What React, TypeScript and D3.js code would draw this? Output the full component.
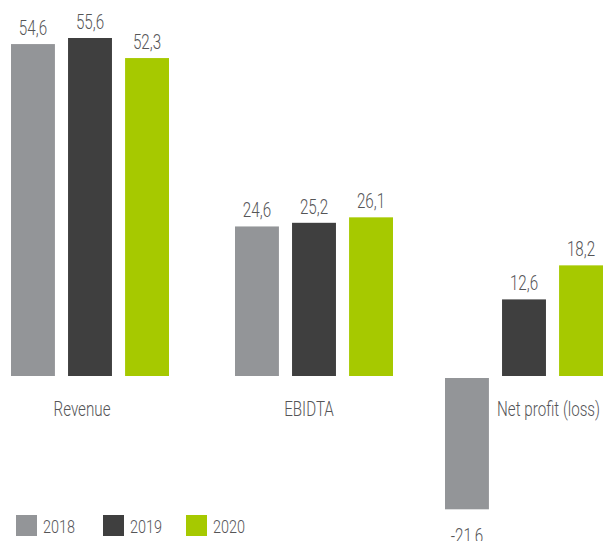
import * as d3 from 'd3'

const categories = ['Revenue', 'EBIDTA', 'Net profit (loss)']
const years = ['2018', '2019', '2020']
const values2018 = [54.6, 24.6, -21.6]
const values2019 = [55.6, 25.2, 12.6]
const values2020 = [52.3, 26.1, 18.2]
const colors = ['#939598', '#3f3f3f', '#a6c900']

const series = [values2018, values2019, values2020]
const fmt = (v: number) => d3.format('.1f')(v).replace('.', ',').replace('\u2212', '-')
const FONT = 'Roboto, "Noto Sans", sans-serif'
const TEXT_COLOR = '#555557'

// condensed look: the reference uses a narrow face we don't have, so squeeze Roboto
function CText({ x, y, anchor = 'middle', size = 20, children }: any) {
  return (
    <text
      transform={`translate(${x},${y}) scale(0.76,1)`}
      textAnchor={anchor}
      fontSize={size}
      fontWeight={300}
      fill={TEXT_COLOR}
      fontFamily={FONT}
    >
      {children}
    </text>
  )
}

export default function App() {
  const width = 608
  const height = 541

  const groupStart = [11, 235, 445]
  const x1 = d3.scaleBand<string>().domain(years).range([0, 158]).paddingInner(0.23).paddingOuter(0)
  const y = d3.scaleLinear().domain([0, 55.6]).range([376, 38])

  const labelX = [82, 309, 497]
  const labelAnchor = ['middle', 'middle', 'start']
  const legendX = [16, 103, 186]

  return (
    <svg width={width} height={height} style={{ position: 'absolute', left: 0, top: 0 }}>
      {categories.map((c, ci) => (
        <g key={c} transform={`translate(${groupStart[ci]},0)`}>
          {years.map((yr, si) => {
            const v = series[si][ci]
            const top = v >= 0 ? y(v) : y(0) + 2
            const h = Math.abs(y(v) - y(0))
            const bx = x1(yr) as number
            return (
              <g key={yr}>
                <rect x={bx} y={top} width={x1.bandwidth()} height={h} fill={colors[si]} />
                <CText x={bx + x1.bandwidth() / 2} y={v >= 0 ? y(v) - 9 : top + h + 34} size={20}>
                  {fmt(v)}
                </CText>
              </g>
            )
          })}
        </g>
      ))}
      {categories.map((c, ci) => (
        <CText key={c} x={labelX[ci]} y={416} anchor={labelAnchor[ci]} size={20}>
          {c}
        </CText>
      ))}
      {years.map((yr, i) => (
        <g key={yr}>
          <rect x={legendX[i]} y={515} width={21} height={21} fill={colors[i]} />
          <CText x={legendX[i] + 27} y={533} anchor="start" size={19}>
            {yr}
          </CText>
        </g>
      ))}
    </svg>
  )
}
